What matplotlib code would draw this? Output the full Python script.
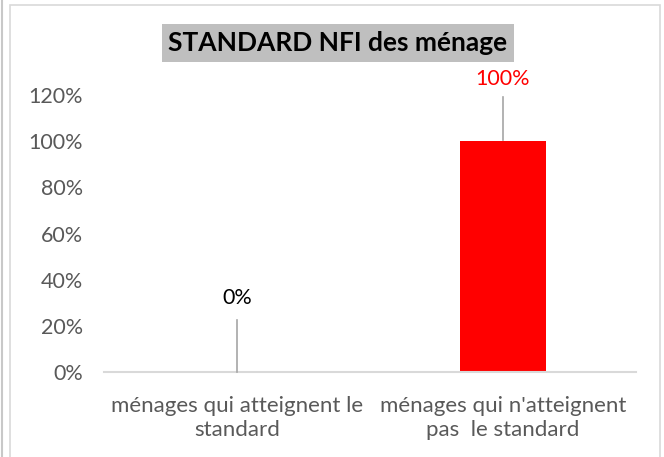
import matplotlib.pyplot as plt
from matplotlib.patches import Rectangle
from matplotlib.lines import Line2D

categories = ["ménages qui atteignent le\nstandard", "ménages qui n'atteignent\npas  le standard"]
values = [0.0, 1.0]
value_labels = ["0%", "100%"]
label_colors = ["black", "#FF0000"]
yticks = [0, 0.2, 0.4, 0.6, 0.8, 1.0, 1.2]
ytick_labels = ["0%", "20%", "40%", "60%", "80%", "100%", "120%"]

plt.rcParams['font.family'] = ['Lato', 'DejaVu Sans']

fig = plt.figure(figsize=(6.64, 4.57), dpi=100)
ax = fig.add_axes([104/664, 85/457, 532/664, 277/457])

x = list(range(len(categories)))
ax.bar(x, values, width=0.32, color="#FF0000", zorder=2)

ax.set_xlim(-0.5, 1.5)
ax.set_ylim(0, 1.2)
ax.set_yticks(yticks)
ax.set_yticklabels(ytick_labels, fontsize=15.5, color="#595959")
ax.set_xticks(x)
ax.set_xticklabels(categories, fontsize=16, color="#595959", linespacing=1.3)
ax.tick_params(axis='both', length=0)
ax.tick_params(axis='y', pad=15)
ax.tick_params(axis='x', pad=17)
for s in ['left', 'right', 'top']:
    ax.spines[s].set_visible(False)
ax.spines['bottom'].set_color("#D9D9D9")
ax.spines['bottom'].set_linewidth(1.5)

# data labels with leader lines (placed by hand, like in the original)
leader = {0: (0.0, 0.225, 0.32), 1: (0.005, 0.19, 0.27)}
for xi, v, lab, c in zip(x, values, value_labels, label_colors):
    lo, hi, ly = leader[xi]
    ax.plot([xi, xi], [v + lo, v + hi], color="#A6A6A6", lw=1.2, clip_on=False, zorder=3)
    ax.text(xi, v + ly, lab, ha='center', va='center', fontsize=15.5, color=c, clip_on=False)

# title in gray box
fig.text(338/664, 1 - 43/457, "STANDARD NFI des ménage", ha='center', va='center',
         fontsize=19, fontweight='bold', color='black',
         bbox=dict(boxstyle='square,pad=0.26', fc="#BFBFBF", ec='none'))

# chart area border
fig.patches.append(Rectangle((10/664, -0.02), 650/664, 1.02 - 5/457, transform=fig.transFigure,
                             fill=False, ec="#D9D9D9", lw=1.2))
fig.lines.append(Line2D([2/664, 2/664], [0, 1], transform=fig.transFigure, color="#C8C8C8", lw=1.5))

fig.savefig("out.png", dpi=100)
